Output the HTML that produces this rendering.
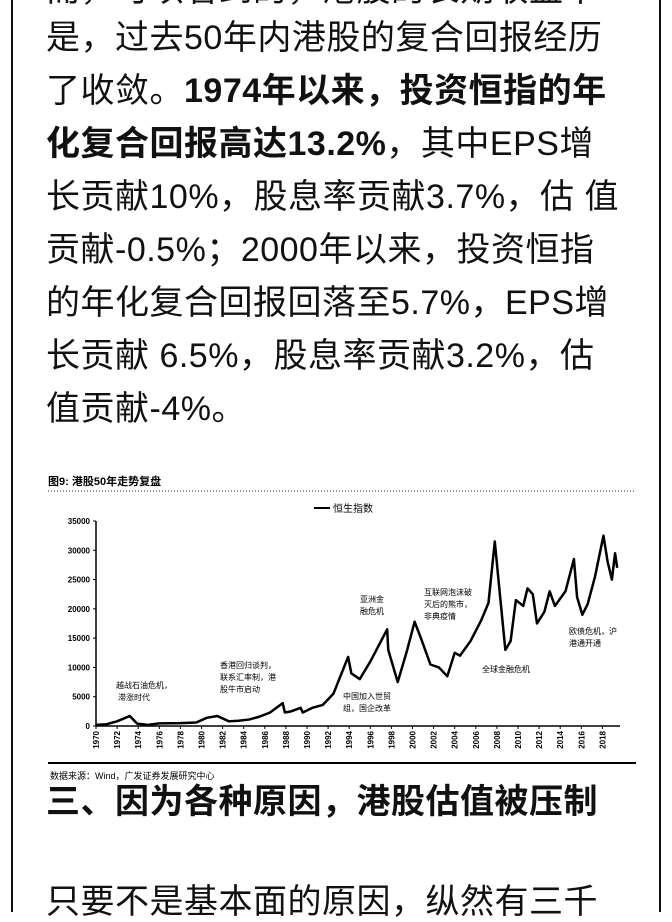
<!DOCTYPE html>
<html><head><meta charset="utf-8">
<style>
html,body{margin:0;padding:0;background:#fff;}
body{width:672px;height:912px;position:relative;overflow:hidden;font-family:"Liberation Sans","Noto Sans CJK SC",sans-serif;color:#111;}
.bd{position:absolute;top:0;bottom:0;width:2px;background:#111;}
.ln{position:absolute;left:46px;font-size:34px;line-height:40px;white-space:nowrap;letter-spacing:0.5px;}
b{font-weight:bold;}
svg{position:absolute;left:0;top:0;}
</style></head><body>
<div class="bd" style="left:11px"></div>
<div class="bd" style="left:659px"></div>
<div>
<div class="ln" style="top:-30px">而，可以看到的，港股的长期收益率</div>
<div class="ln" style="top:18px">是，过去50年内港股的复合回报经历</div>
<div class="ln" style="top:71px">了收敛。<b>1974年以来，投资恒指的年</b></div>
<div class="ln" style="top:124px"><b>化复合回报高达13.2%</b>，其中EPS增</div>
<div class="ln" style="top:177px">长贡献10%，股息率贡献3.7%，估 值</div>
<div class="ln" style="top:230px">贡献-0.5%；2000年以来，投资恒指</div>
<div class="ln" style="top:283px">的年化复合回报回落至5.7%，EPS增</div>
<div class="ln" style="top:336px">长贡献 6.5%，股息率贡献3.2%，估</div>
<div class="ln" style="top:389px">值贡献-4%。</div>
<div class="ln" style="top:782px"><b>三、因为各种原因，港股估值被压制</b></div>
<div class="ln" style="top:882px">只要不是基本面的原因，纵然有三千</div>
</div>
<svg id="chart" width="672" height="912">
<text x="48" y="485" font-size="11" font-weight="bold">图9: 港股50年走势复盘</text>
<line x1="48" y1="491" x2="636" y2="491" stroke="#333" stroke-dasharray="1,2" />
<line x1="314" y1="508" x2="330" y2="508" stroke="#000" stroke-width="2"/>
<text x="333" y="512" font-size="10">恒生指数</text>
<line x1="48" y1="763" x2="636" y2="763" stroke="#000" stroke-width="2"/>
<text x="50" y="779" font-size="9">数据来源：Wind，广发证券发展研究中心</text>
<g id="axes"></g><g id="marks"></g><g id="notes" font-size="8">
<text x="116" y="688">越战石油危机，</text><text x="118" y="700">滞涨时代</text>
<text x="220" y="668">香港回归谈判，</text><text x="220" y="680">联系汇率制，港</text><text x="220" y="692">股牛市启动</text>
<text x="343" y="699">中国加入世贸</text><text x="343" y="711">组，国企改革</text>
<text x="360" y="602">亚洲金</text><text x="360" y="614">融危机</text>
<text x="424" y="595">互联网泡沫破</text><text x="424" y="607">灭后的熊市，</text><text x="424" y="619">非典疫情</text>
<text x="482" y="672">全球金融危机</text>
<text x="569" y="634">欧债危机，沪</text><text x="569" y="646">港通开通</text>
</g>
</svg>
<script>
const years=[1970,1971,1972,1973.2,1973.9,1974.9,1976,1978,1979.5,1980.5,1981.5,1982.6,1983.5,1984.5,1985.5,1986.5,1987.7,1987.9,1988.5,1989.4,1989.6,1990.5,1991.5,1992.5,1993.9,1994.2,1995,1996,1997.6,1997.7,1998.6,1999.5,2000.2,2000.8,2001.7,2002.5,2003.3,2004,2004.5,2005.5,2006.5,2007.2,2007.8,2008.2,2008.8,2009.3,2009.8,2010.5,2010.9,2011.4,2011.8,2012.5,2013,2013.5,2014.5,2015.3,2015.6,2016.1,2016.6,2017.3,2018.1,2018.5,2018.9,2019.2,2019.4];
const values=[200,300,800,1700,400,200,450,500,600,1400,1700,800,900,1100,1600,2300,3900,2300,2500,3100,2300,3100,3600,5500,11800,9000,8000,11000,16500,13000,7500,13000,17800,15000,10500,10000,8500,12500,12000,14500,18000,21000,31500,24000,13000,14500,21500,20500,23500,22500,17500,19500,23000,20500,23000,28500,22000,19000,20800,25500,32500,28000,25000,29500,27000];
const yTicks=[0,5000,10000,15000,20000,25000,30000,35000];
const xTicks=[1970,1972,1974,1976,1978,1980,1982,1984,1986,1988,1990,1992,1994,1996,1998,2000,2002,2004,2006,2008,2010,2012,2014,2016,2018];
const NS='http://www.w3.org/2000/svg';
const X=y=>96+(y-1970)*10.55, Y=v=>726-v*(205/35000);
const ax=document.getElementById('axes'), mk=document.getElementById('marks');
function el(t,a,p){const e=document.createElementNS(NS,t);for(const k in a)e.setAttribute(k,a[k]);p.appendChild(e);return e;}
const ya=el('line',{x1:96,y1:Y(35000),x2:96,y2:726,stroke:'#000','stroke-width':1.5},ax);


const xa=el('line',{x1:96,y1:726,x2:620,y2:726,stroke:'#000','stroke-width':1.5},ax);


yTicks.forEach(v=>{el('line',{x1:93,y1:Y(v),x2:96,y2:Y(v),stroke:'#000'},ax);
const t=el('text',{x:90,y:Y(v)+3,'font-size':8,'font-weight':'bold','text-anchor':'end'},ax);t.textContent=v;

});
xTicks.forEach(v=>{const x=X(v);el('line',{x1:x,y1:726,x2:x,y2:729,stroke:'#000'},ax);
const t=el('text',{x:0,y:0,'font-size':8,'font-weight':'bold','text-anchor':'end',transform:`translate(${x+3},731) rotate(-90)`},ax);t.textContent=v;

});
const p=el('polyline',{points:years.map((y,i)=>X(y)+','+Y(values[i])).join(' '),fill:'none',stroke:'#000','stroke-width':2.5,'stroke-linejoin':'round'},mk);


</script>
</body></html>
